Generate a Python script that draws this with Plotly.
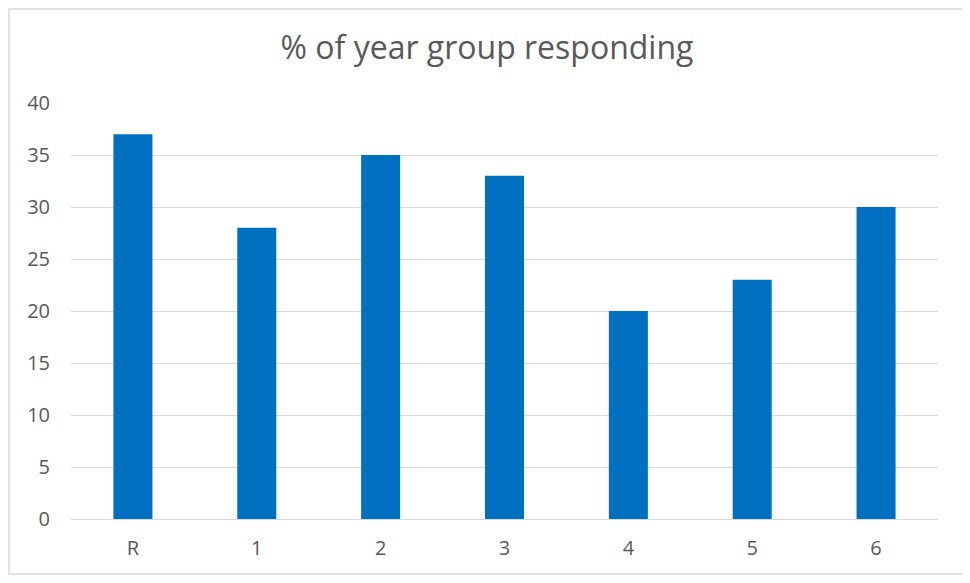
import plotly.graph_objects as go

categories = ["R", "1", "2", "3", "4", "5", "6"]
values = [37, 28, 35, 33, 20, 23, 30]
y_ticks = [0, 5, 10, 15, 20, 25, 30, 35, 40]

OFF = 8  # page body margin
W, H = 958, 567
L = 71 - OFF
T = 103 - OFF
R = (OFF + W) - 938
B = (OFF + H) - 519
pw, ph = W - L - R, H - T - B

def fx(x):  # figure px -> paper x
    return (x - L) / pw

def fy(y):  # figure px (from top) -> paper y
    return (H - B - y) / ph

fig = go.Figure(go.Bar(
    x=categories, y=values,
    marker=dict(color="#0070C0", line=dict(width=0)),
    width=0.315,
))

font_family = "Open Sans, Liberation Sans, sans-serif"

fig.update_layout(
    width=W, height=H,
    margin=dict(l=L, r=R, t=T, b=B),
    paper_bgcolor="white", plot_bgcolor="white",
    title=dict(text="% of year group responding", x=(487 - OFF) / W, xref="container", xanchor="center",
               y=1 - (48 - OFF) / H, yref="container", yanchor="middle",
               font=dict(family=font_family, size=32, color="#595959")),
    font=dict(family=font_family, size=20, color="#595959"),
    showlegend=False,
    xaxis=dict(showgrid=False, showline=False, ticks="", ticklabelstandoff=15,
               tickfont=dict(size=20, color="#595959")),
    yaxis=dict(range=[0, 40], tickvals=y_ticks, showgrid=True, gridcolor="#D9D9D9",
               gridwidth=1, zeroline=True, zerolinecolor="#D9D9D9", zerolinewidth=1,
               showline=False, ticks="", ticklabelstandoff=20,
               tickfont=dict(size=20, color="#595959")),
    shapes=[dict(type="rect", xref="paper", yref="paper",
                 x0=fx(1), x1=fx(W - 1),
                 y0=fy(H - 1), y1=fy(1),
                 line=dict(color="#D9D9D9", width=1.5), fillcolor="rgba(0,0,0,0)",
                 layer="above")],
)

fig.write_html("out.html")
